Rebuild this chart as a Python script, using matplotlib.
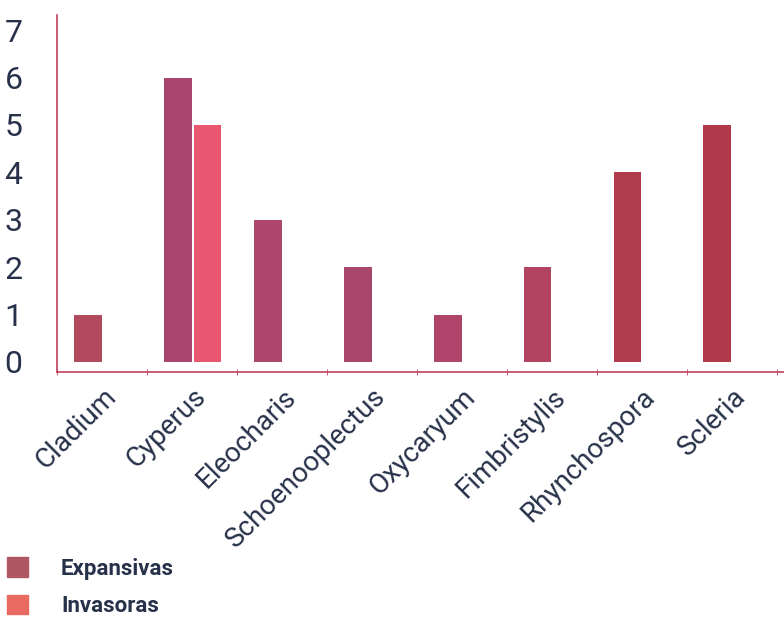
import numpy as np
import matplotlib.pyplot as plt
from matplotlib.patches import Patch

generos = ['Cladium', 'Cyperus', 'Eleocharis', 'Schoenooplectus',
           'Oxycaryum', 'Fimbristylis', 'Rhynchospora', 'Scleria']
expansivas = [1, 6, 3, 2, 1, 2, 4, 5]
invasoras = [0, 5, 0, 0, 0, 0, 0, 0]

col_exp = ['#b04a5c', '#a8466f', '#ae476e', '#a9466b',
           '#b0456b', '#b34461', '#b03b4c', '#b03a49']
col_inv = '#ea5770'
axis_col = '#c2405e'
text_col = '#27324a'
font = ['Roboto', 'DejaVu Sans']

plt.rcParams['font.family'] = font

fig = plt.figure(figsize=(7.84, 6.24), dpi=100)
ax = fig.add_axes([0.073, 0.404, 0.927, 0.572])

x = np.arange(len(generos))
w = 0.31
ax.bar(x - 0.16, expansivas, w, color=col_exp)
inv = np.array(invasoras)
m = inv > 0
ax.bar(x[m] + 0.17, inv[m], w, color=col_inv)

ax.set_xlim(-0.5, 7.58)
ax.set_ylim(-0.21, 7.32)
ax.set_yticks(range(8))
ax.set_xticks(x)
ax.set_xticklabels(generos, rotation=45, ha='right', rotation_mode='anchor',
                   fontsize=20, color=text_col)
ax.set_xticks(np.arange(-0.5, 8, 1), minor=True)
ax.tick_params(axis='x', which='major', length=0, pad=8)
ax.tick_params(axis='x', which='minor', length=4, direction='inout', color=axis_col)
ax.tick_params(axis='y', length=0, labelsize=23, labelcolor=text_col, pad=38)
for t in ax.get_yticklabels():
    t.set_horizontalalignment('left')

for s in ['top', 'right']:
    ax.spines[s].set_visible(False)
for s in ['left', 'bottom']:
    ax.spines[s].set_color(axis_col)
    ax.spines[s].set_linewidth(1.2)

handles = [Patch(color='#b05562', label='Expansivas'),
           Patch(color='#e96a60', label='Invasoras')]
leg = fig.legend(handles=handles, loc='lower left', bbox_to_anchor=(0.0, 0.0),
                 frameon=False, handlelength=0.95, handleheight=0.95,
                 handletextpad=1.5, labelspacing=0.7, borderaxespad=0.1,
                 borderpad=0.2,
                 prop={'family': font, 'weight': 'bold', 'size': 16})
for t in leg.get_texts():
    t.set_color(text_col)

fig.savefig('out.png', dpi=100)
